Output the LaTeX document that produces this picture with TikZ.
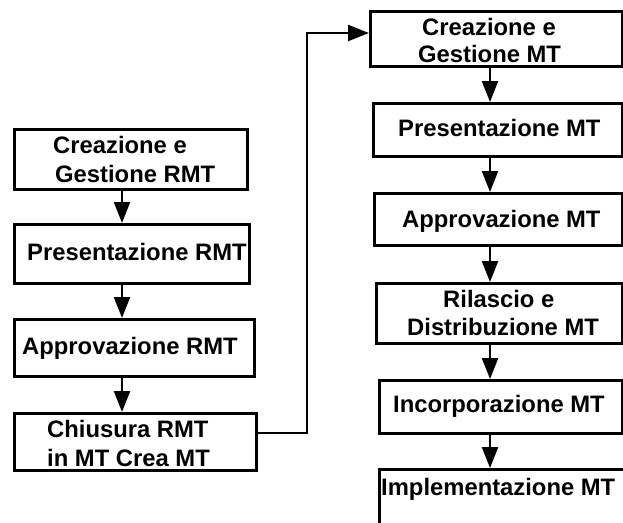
\documentclass[tikz,border=0pt]{standalone}
\usepackage{fontspec}
\setmainfont{Liberation Sans}
\usetikzlibrary{arrows.meta}
\begin{document}
\begin{tikzpicture}[x=1pt,y=-1pt,
  bx/.style={draw=black,line width=2.6pt,fill=none,inner sep=0pt,anchor=north west},
  tx/.style={inner sep=0pt,anchor=base west,font=\fontsize{23.8}{28}\selectfont\bfseries},
  arr/.style={line width=2.4pt,-{Triangle[length=21pt,width=16pt]}}]
\useasboundingbox (0,0) rectangle (623,522);
\clip (0,0) rectangle (623,522);
\fill[white] (0,0) rectangle (623,522);
% left column boxes
\node[bx,minimum width=233pt,minimum height=60pt] (l1) at (13,128) {};
\node[bx,minimum width=235pt,minimum height=59pt] (l2) at (13,223) {};
\node[bx,minimum width=240pt,minimum height=57pt] (l3) at (13,318) {};
\node[bx,minimum width=242pt,minimum height=57pt] (l4) at (13,412) {};
% right column boxes
\node[bx,minimum width=252pt,minimum height=55pt] (r1) at (369,10) {};
\node[bx,minimum width=249pt,minimum height=53pt] (r2) at (372,102) {};
\node[bx,minimum width=248pt,minimum height=52pt] (r3) at (373,192) {};
\node[bx,minimum width=246pt,minimum height=60pt] (r4) at (375,282) {};
\node[bx,minimum width=243pt,minimum height=53pt] (r5) at (378,379) {};
\node[bx,minimum width=300pt,minimum height=80pt] (r6) at (378,468) {};
% texts
\node[tx] (t1a) at (53,153) {Creazione e};
\node[tx] (t1b) at (55,182) {Gestione RMT};
\node[tx] (t2) at (27,260) {Presentazione RMT};
\node[tx] (t3) at (22,354) {Approvazione RMT};
\node[tx] (t4a) at (47,437) {Chiusura RMT};
\node[tx] (t4b) at (47,466) {in MT Crea MT};
\node[tx] (u1a) at (422,35) {Creazione e};
\node[tx] (u1b) at (418,62) {Gestione MT};
\node[tx] (u2) at (398,136) {Presentazione MT};
\node[tx] (u3) at (402,227) {Approvazione MT};
\node[tx] (u4a) at (443,307) {Rilascio e};
\node[tx] (u4b) at (407,335) {Distribuzione MT};
\node[tx] (u5) at (393,412) {Incorporazione MT};
\node[tx] (u6) at (381,495) {Implementazione MT};
% arrow axes
\coordinate (axL) at (122,0);
\coordinate (axR) at (490,0);
\draw[arr] (l1.south -| axL) -- (l2.north -| axL);
\draw[arr] (l2.south -| axL) -- (l3.north -| axL);
\draw[arr] (l3.south -| axL) -- (l4.north -| axL);
\draw[arr] (r1.south -| axR) -- (r2.north -| axR);
\draw[arr] (r2.south -| axR) -- (r3.north -| axR);
\draw[arr] (r3.south -| axR) -- (r4.north -| axR);
\draw[arr] (r4.south -| axR) -- (r5.north -| axR);
\draw[arr] (r5.south -| axR) -- (r6.north -| axR);
% long connector
\coordinate (c1) at (307,433);
\coordinate (c2) at (307,33);
\draw[arr] (l4.east |- c1) -- (c1) -- (c2) -- (r1.west |- c2);
\end{tikzpicture}
\end{document}
